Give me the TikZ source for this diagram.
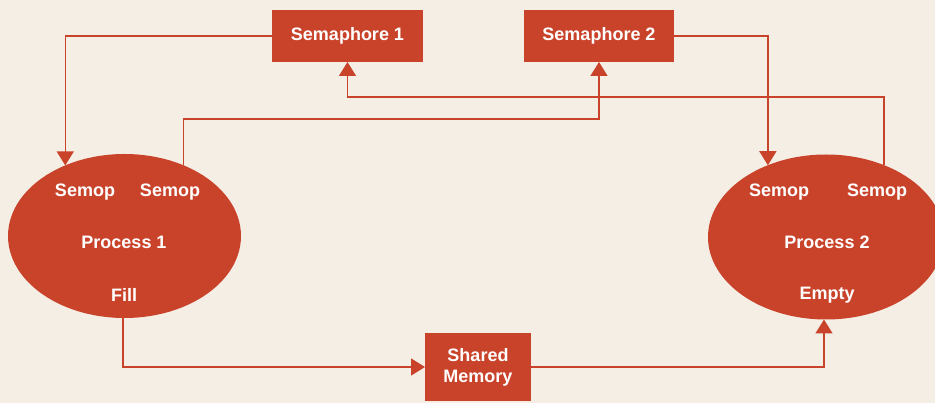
\documentclass[tikz,border=0pt]{standalone}
\usepackage{fontspec}
\setmainfont{Liberation Sans}
\usetikzlibrary{arrows.meta,shapes.geometric}
\definecolor{brick}{RGB}{201,67,43}
\definecolor{paper}{RGB}{245,238,229}
\tikzset{
  lbl/.style={text=white,font=\bfseries\fontsize{18}{21}\selectfont,inner sep=0pt},
  block/.style={rectangle,fill=brick,draw=none,inner sep=0pt,outer sep=0pt,
    text=white,font=\bfseries\fontsize{18}{21}\selectfont,align=center},
  proc/.style={ellipse,fill=brick,draw=none,inner sep=0pt,outer sep=0pt},
  link/.style={draw=brick,line width=1.5pt},
  arr/.style={link,-{Triangle[width=17pt,length=14pt]}}
}
\begin{document}
\begin{tikzpicture}[x=1pt,y=-1pt]
  \fill[paper] (0,0) rectangle (935,403);
  \useasboundingbox (0,0) rectangle (935,403);

  % semaphores and shared memory
  \node[block,minimum width=151pt,minimum height=52pt] (s1) at (347.5,36) {Semaphore 1};
  \node[block,minimum width=150pt,minimum height=52pt] (s2) at (599,36) {Semaphore 2};
  \node[block,minimum width=106pt,minimum height=68pt] (m) at (478,367) {Shared\\Memory};

  % processes
  \node[proc,minimum width=233pt,minimum height=164pt] (p1) at (124.5,236) {};
  \node[proc,minimum width=236pt,minimum height=165pt] (p2) at (826,237) {};

  \node[lbl] (p1a) at (85,192) {Semop};
  \node[lbl] (p1b) at (170,192) {Semop};
  \node[lbl] (p1t) at (124,242) {Process 1};
  \node[lbl] (p1f) at (124,295) {Fill};

  \node[lbl] (p2a) at (779,192) {Semop};
  \node[lbl] (p2b) at (877,192) {Semop};
  \node[lbl] (p2t) at (827,242) {Process 2};
  \node[lbl] (p2e) at (827,295) {Empty};

  % routing levels of the return lines
  \coordinate (r1) at (0,119);
  \coordinate (r2) at (0,97);

  % connectors
  \draw[arr] (s1.west) -| (p1.130.2);
  \draw[arr] (s2.east) -| (p2.129.1);
  \draw[arr] (p1.50.5) |- (r1 -| s2.south) -- (s2.south);
  \draw[arr] (p2.51.6) |- (r2 -| s1.south) -- (s1.south);
  \draw[arr] ([xshift=-1.5pt]p1.south) |- (m.west);
  \draw[arr] (m.east) -| ([xshift=-2pt]p2.south);
\end{tikzpicture}
\end{document}
